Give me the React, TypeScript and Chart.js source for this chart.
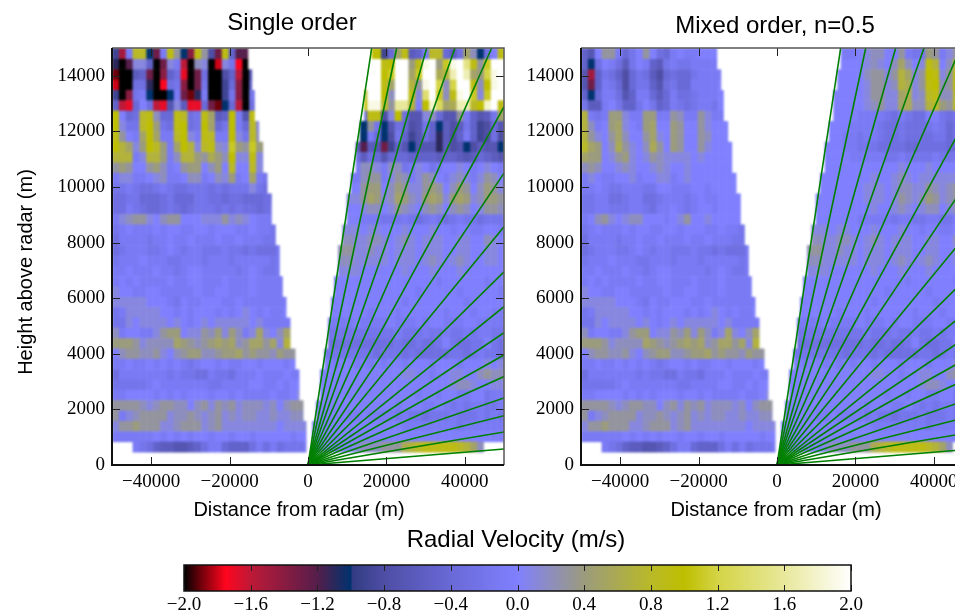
import React, { useEffect, useRef } from "react";
import { Chart, registerables } from "chart.js";

Chart.register(...registerables);

const xTickValues = [-40000, -20000, 0, 20000, 40000];
const yTickValues = [0, 2000, 4000, 6000, 8000, 10000, 12000, 14000];
const colorbarTicks = [-2, -1.6, -1.2, -0.8, -0.4, 0, 0.4, 0.8, 1.2, 1.6, 2];

const cmapValues = [-2, -1.9, -1.75, -1.6, -1.2, -1.0, -0.99, -0.8, -0.4, 0, 0.4, 0.8, 1.0, 1.2, 1.6, 2];
const cmapColors = [
  [0, 0, 0], [110, 0, 10], [255, 5, 30], [190, 25, 55], [85, 30, 75], [0, 50, 110], [50, 60, 130], [78, 78, 165],
  [105, 105, 215], [128, 128, 255], [155, 155, 125], [185, 185, 40], [190, 190, 0], [212, 212, 70], [232, 232, 155], [255, 255, 255],
];

// end of each ray at the edge of the plot
const rayEndX = [16250, 22630, 30280, 37500, 46860, 50000, 50000, 50000, 50000, 50000, 50000, 50000, 50000, 50000, 50000, 50000, 50000];
const rayEndY = [15000, 15000, 15000, 15000, 15000, 12890, 10500, 8570, 6950, 5695, 4760, 3957, 3180, 2410, 1773, 1187, 575];

// rows, top to bottom: inner limit of the data on each side of the radar
const leftRowEnd = [-15380, -15380, -14360, -14360, -13700, -13700, -13700, -12580, -12580, -11560, -11560, -11560, -10460, -10460, -9360, -9360, -9360, -8340, -8340, -7320, -7320, -7320, -6560, -6560, -5610, -5610, -4590, -4590, -4590, -3320, -3320, -2300, -2300, -2300, -1280, -1280, -510, -510, -510];
const rightRowStart = [16250, 16250, 15380, 15380, 14360, 14360, 14360, 13270, 13270, 12170, 12170, 12170, 10970, 10970, 9870, 9870, 9870, 8750, 8750, 7650, 7650, 7650, 6630, 6630, 5870, 5870, 5100, 5100, 5100, 4160, 4160, 3060, 3060, 3060, 2040, 2040, 1020, 1020, 1020];

const rowBase = 468;
const rowStep = 372;
const colStep = 1750;

// cells run from x=-50000 towards the radar
const singleLeftUpper = [
  [-.9,-1.5,-.1,.8,.8,-1,-1.3,-.1,.9,.3,-1,-1.4,.9,.3,-.8,-1.3,.9,-.5,-1.2,-1.2],
  [-1.1,-2,-1.2,.1,.1,-.5,-2,-1.3,.1,-.1,-1.6,-2,.2,.1,-2,-1.8,.1,-.2,-1.75,-2],
  [-1.9,-2,-2,-.6,-.5,-1.3,-2,-1.4,-.5,-.3,-1.7,-2,-1.3,-.3,-2,-2,-.8,-.5,-1.6,-2,-.7],
  [-1.8,-2,-2,-.3,-.3,-1.1,-2,-1.75,-.3,-.2,-1.4,-2,-1.3,-.2,-2,-2,-.9,-.4,-1.4,-2,-.5],
  [-.9,-2,-1.4,-.2,-.1,-1,-2,-2,-1,-.1,-1.3,-1.9,-1.1,-.1,-2,-2,-.9,-.2,-1.4,-2,-.2,-.1],
  [-.5,-1.6,-1.7,-.4,0,-.3,-1.6,-1.7,-.7,.1,-.6,-1.7,-1.7,-.4,-1.3,-1.9,-1,-.4,-1.6,-2,-.3,0],
  [1,0,-.4,-.3,.8,.9,.2,-.4,-.4,.9,.8,-.3,-.2,.9,.5,-.6,-.5,1,-.1,-.7,.9],
  [1,.1,-.2,-.2,.8,1,.4,-.2,-.3,.9,1,-.3,-.2,1,.5,-.4,-.2,1,-.1,-.4,.8,.1],
  [.9,.3,0,-.1,.5,1,.5,-.1,-.1,.8,1,.1,-.1,.9,.8,-.1,-.1,1,.1,-.2,.8,.2],
  [1,.7,.5,.1,.4,1,.8,.4,-.1,.5,1,.7,.1,.8,.9,.2,.1,1.1,.4,.3,1.1,.4],
  [.7,.7,.7,-.1,.1,.7,.7,.4,-.1,.2,.7,.7,.4,.3,.6,.4,.2,1,.1,.1,.9,.1],
  [.3,.4,.3,0,0,.3,.4,.2,-.1,0,.3,.4,.4,0,.2,.4,0,.8,0,0,.8,.1],
  [-.1,.1,.1,-.1,-.1,0,.1,.2,-.1,-.1,0,.2,.2,-.1,0,.2,.1,.4,-.1,0,.5,-.1,-.2],
  [-.2,-.2,-.1,-.2,-.3,-.3,-.2,-.1,-.2,-.3,-.3,-.2,-.2,-.2,-.3,-.2,-.3,-.2,-.2,-.2,.1,-.2,-.3],
  [-.3,-.3,-.2,-.2,-.4,-.4,-.4,-.3,-.2,-.4,-.4,-.4,-.2,-.2,-.3,-.3,-.4,-.3,-.3,-.4,-.4,-.4,-.3,-.3],
  [-.3,-.3,-.1,-.2,-.3,-.4,-.4,-.3,-.2,-.3,-.4,-.3,-.2,-.2,-.2,-.3,-.2,-.3,-.2,-.3,-.3,-.4,-.3,-.2],
  [-.1,.1,.2,.3,.3,.1,0,.2,.3,.3,0,0,0,.1,.1,.1,.3,.1,.2,.1,0,-.1,-.1,-.1],
];

const mixedLeftUpper = [
  [-.5,-.7,0,.3,.3,-.1,-.4,-.2,0,.3,0,-.3,-.4,-.1,0,-.1,-.1,0,0,0],
  [-.5,-1,-.3,0,-.1,-.3,-.6,-.2,0,-.1,-.5,-.6,-.2,-.1,-.2,-.2,-.1,-.1,-.1,-.1],
  [-.7,-1.5,-.5,-.2,-.3,-.5,-.8,-.4,-.2,-.3,-.6,-.8,-.4,-.3,-.4,-.4,-.2,-.1,-.1,-.1,-.1],
  [-.7,-1.3,-.5,-.1,-.2,-.4,-.8,-.4,-.2,-.2,-.5,-.7,-.3,-.2,-.4,-.4,-.1,-.1,-.1,-.1,0],
  [-.5,-1,-.4,-.1,-.1,-.3,-.7,-.5,-.1,-.1,-.4,-.6,-.4,-.1,-.3,-.3,-.2,-.1,-.1,-.1,0,0],
  [-.2,-.6,-.6,-.1,0,-.2,-.5,-.5,-.2,0,-.2,-.5,-.4,-.1,-.2,-.3,-.2,-.1,-.1,-.2,0,0],
  [.7,-.1,-.2,-.1,.4,.4,.1,-.1,-.1,.4,.4,-.1,-.1,.3,.2,-.1,-.1,.3,.1,-.1,-.1,.1],
  [.7,.2,-.1,0,.4,.5,.1,0,-.1,.4,.5,0,0,.4,.3,0,0,.3,.1,0,0,0],
  [.7,.3,.1,0,.3,.5,.2,0,0,.3,.5,.1,0,.4,.3,0,0,.3,.2,0,0,0],
  [.8,.5,.4,0,.2,.6,.3,.1,0,.2,.6,.3,0,.4,.3,0,0,.3,.1,0,0,0],
  [.5,.4,.4,0,.1,.3,.4,.1,0,.1,.3,.2,.1,.1,.1,.1,0,.1,0,0,0,0],
  [.2,.3,.2,0,0,.1,.2,.1,0,0,.1,.2,.1,0,0,.1,0,0,0,0,0,0],
  [-.1,.1,0,-.1,-.1,0,0,.1,-.1,0,0,.1,.1,-.1,0,.1,0,0,0,0,0,0,0],
  [-.1,-.1,0,-.1,-.2,-.2,-.1,-.1,-.1,-.2,-.2,0,0,-.1,-.1,-.1,0,0,-.1,0,0,0,0],
  [-.2,-.2,-.1,-.1,-.3,-.3,-.2,-.1,-.1,-.3,-.3,-.2,-.1,-.1,-.1,-.2,-.1,0,-.1,-.1,0,0,0,0],
  [-.2,-.2,-.1,-.1,-.2,-.2,-.2,-.1,-.1,-.2,-.3,-.1,-.1,0,-.1,-.2,-.1,0,0,-.1,0,0,0,0],
  [-.1,0,.2,.3,.1,0,.1,.2,.2,0,0,0,-.1,0,.1,.3,0,0,.1,0,0,0,0,0],
];

const lowerLeft = [
  [-.2,-.1,0,-.1,-.1,-.1,0,-.1,0,0,-.1,-.1,0,0,-.1,0,0,0,-.1,-.1,0,-.1,-.1,-.2],
  [-.3,-.1,-.1,-.1,-.1,-.2,-.1,-.1,0,-.1,-.1,0,-.1,-.1,-.1,0,-.1,-.1,0,-.1,-.1,-.1,-.2,-.2],
  [-.3,-.2,-.1,-.1,-.1,-.2,-.2,-.1,0,-.1,-.2,-.1,-.1,-.2,-.2,-.2,-.1,-.2,-.2,-.3,-.2,-.3,-.3,-.3,-.1],
  [-.2,-.1,-.1,-.1,0,-.1,-.1,-.1,-.2,-.2,-.1,-.1,-.1,-.2,-.1,-.1,-.1,-.2,-.1,-.1,-.1,-.1,-.1,-.2,-.1],
  [-.1,-.1,0,-.1,-.1,-.1,0,-.1,-.1,-.2,-.1,0,0,-.1,-.1,-.1,-.1,-.1,-.2,-.1,0,-.1,-.2,-.2,-.1],
  [-.1,0,-.1,0,-.1,-.1,-.1,-.1,0,-.1,-.1,0,0,-.1,-.1,-.1,0,-.1,-.1,-.1,0,-.1,-.1,-.1,-.1],
  [.1,0,0,-.1,-.1,0,0,-.1,-.1,-.1,-.1,-.1,0,-.1,-.1,0,0,-.1,-.1,-.1,0,-.1,-.1,-.1,-.1],
  [.1,.1,.1,.1,.1,0,0,0,-.1,-.2,0,-.1,-.1,0,0,0,-.1,-.1,0,-.1,-.1,-.1,-.1,-.1,-.1],
  [-.2,-.1,.1,.1,.1,.1,.1,0,0,-.1,0,-.1,0,0,0,-.1,0,-.1,0,.1,0,-.1,0,-.1,-.1,0],
  [-.2,-.2,.1,0,.1,.1,.1,.1,0,.1,0,-.1,0,.1,0,.1,.1,.1,.1,.1,0,.1,-.1,-.1,-.1,-.1],
  [.2,-.1,0,0,-.1,-.1,.1,.3,.4,.4,0,.1,.1,.3,.2,.4,.1,.4,.2,-.1,.1,.5,.1,0,.2,.5],
  [.4,.4,.4,.3,.1,.2,.2,.2,.2,.5,.4,.3,.2,.3,.4,.5,.4,.5,.2,.3,.5,.5,.3,.5,.1,.7],
  [0,.2,.3,.3,.2,.2,.3,.1,0,.2,.3,.4,.4,.2,.2,.3,.4,.4,.5,.3,.4,.3,.3,.2,.4,.3],
  [-.1,-.1,0,-.1,-.1,0,-.1,0,-.1,0,-.1,-.2,-.1,0,0,-.1,0,-.1,-.1,0,0,-.1,0,0,0,-.1,0],
  [-.3,-.1,-.1,-.1,-.1,-.1,-.1,-.1,-.2,-.1,-.2,-.2,-.3,-.3,-.1,-.2,-.2,-.3,-.1,-.1,-.1,0,-.1,-.1,-.1,0,-.1],
  [-.2,-.2,-.2,-.2,-.2,-.1,0,-.1,-.1,-.1,-.1,-.1,-.1,-.1,-.2,-.2,-.1,-.1,-.1,-.1,0,0,-.1,-.1,0,-.1,0,0],
  [-.1,-.1,0,0,0,0,-.1,0,-.1,0,-.1,0,0,0,-.1,0,0,-.1,0,-.1,-.1,-.1,-.1,0,-.1,-.1,0,.1],
  [.3,.3,.3,.3,.2,.1,.2,.3,.3,.2,.2,0,.2,.3,.1,.3,.2,.3,.1,.2,.2,.2,.1,.2,0,.2,.3,.3],
  [.3,-.1,.1,.2,.3,.3,.3,.3,.1,.2,.2,.3,.2,.1,.2,.3,.1,.2,.1,.2,.2,.1,.1,.2,.1,.1,.2,.2],
  [.1,.3,.3,.4,.3,.3,.3,.1,.1,.2,.3,.3,.3,.1,.2,.3,.1,.1,.1,.1,.1,.1,.1,.1,0,.1,.1,.1],
  [-.1,-.1,-.1,-.1,-.1,-.1,0,-.1,0,-.1,0,-.1,0,0,-.1,0,0,-.1,0,0,-.1,0,0,0,0,0,-.1,0,0],
  [null,null,null,-.1,-.2,-.3,-.5,-.6,-.6,-.7,-.7,-.6,-.5,-.3,-.1,-.1,-.4,-.5,-.5,-.5,-.3,-.1,-.3,-.1,-.3,-.2,-.2,-.2,-.1],
];

// cells run from x=+50000 towards the radar
const singleRightUpper = [
  [.9,0,-.3,-1,.2,.5,-.3,-.6,-.4,.8,.8,-.1,-.5,-.6,.9,.5,-.4,-.9,1,1],
  [2,2,1.1,.3,.9,1.5,2,1.9,1.1,.4,2,1.9,.9,.4,2,2,1,.9,2,2],
  [2,1.9,1.2,.4,.5,1.7,2,1.7,.7,.6,2,2,1.1,.5,2,2,1.1,1,2,2,2],
  [2,1.9,1,.2,.9,2,2,1.2,.2,1.2,2,1.9,.3,.7,2,2,.5,.9,2,2,1.9],
  [2,2,1.1,.1,1.1,2,1.9,.9,.2,1.1,2,1.4,.1,.9,2,2,.2,1,2,2,.8,.2],
  [.9,2,1.8,1,.8,1.7,1.7,.6,.5,1.3,1.8,1,0,.7,1.6,1.6,.3,.8,1.9,1.9,1,.2],
  [.5,-.2,-.6,-.7,-.5,-.1,.3,-.7,-.7,-.4,.2,.1,-.7,-.7,-.3,1,.1,-.8,.9,.9,-.4,-.3],
  [-.7,-.4,-.8,-.9,-.5,-.2,-.6,-.8,-.6,-1,-.5,-.2,-.7,-.8,-.4,-.3,-.7,-1,-.2,.3,-1,-.7],
  [-.8,-.3,-.8,-.9,-.5,-.1,-.5,-.8,-.6,-1.1,-.5,-.3,-.7,-.9,-.5,-.2,-.8,-1,-.4,-.1,-1,-.8,-.5],
  [-1,-.7,-.7,-.6,-.8,-1,-.7,-.8,-.6,-1.1,-.7,-.7,-.7,-1,-.7,-.5,-.9,-1.3,-.7,-.6,-1.2,-.6],
  [-.7,-.6,-.5,-.4,-.6,-.7,-.6,-.5,-.5,-.6,-.5,-.5,-.5,-.5,-.4,-.4,-.4,-.7,-.4,-.3,-.6,-.3,0],
  [-.1,0,.1,0,-.1,0,.1,0,0,-.1,-.2,0,.1,-.1,-.2,.2,.2,-.1,.1,.2,.2,-.1],
  [0,.2,.3,.1,-.1,.1,.2,.1,-.1,0,.2,.3,.1,-.1,.2,.3,.1,-.1,.3,.3,.2,-.1,-.2],
  [.1,.3,.4,.2,0,.3,.4,.2,0,.3,.4,.3,.1,.1,.3,.4,.2,0,.4,.4,.3,0,-.1],
  [.3,.4,.4,.2,.1,.4,.5,.4,.1,.4,.5,.4,.1,.2,.4,.5,.2,.1,.4,.5,.3,.1,.1,0],
  [.2,.3,.3,.1,0,.2,.3,.2,0,.2,.3,.2,0,.1,.2,.3,.1,0,.2,.2,.1,0,0,0],
  [-.2,-.2,-.2,-.3,-.2,-.2,-.1,-.2,-.3,-.2,-.1,-.2,-.3,-.2,-.1,-.2,-.2,-.2,-.1,-.1,-.1,0,0,0],
];

const mixedRightUpper = [
  [.1,0,.3,.1,-.1,.3,.4,-.2,-.2,-.1,.3,0,0,.2,.2,.1,0,-.1,-.1,0],
  [.4,.3,.7,.2,0,.7,.9,.1,0,.2,.5,.2,0,.1,.2,.1,0,0,0,0],
  [.7,.3,.9,.3,.1,.9,1,.3,.1,.5,.7,.3,.1,.3,.3,.2,0,0,0,0,0],
  [.7,.3,.9,.3,.2,1,.9,.3,.1,.6,.7,.2,.1,.3,.3,.1,0,0,0,0,0],
  [.7,.3,.8,.2,.2,.9,.8,.2,.1,.6,.5,.1,.1,.3,.3,.1,0,0,0,0,0,0],
  [.8,.3,.8,.3,.4,.8,.7,.2,.2,.6,.5,.1,.1,.3,.2,.1,0,0,0,0,0,0],
  [-.1,-.2,-.2,-.3,-.2,0,0,-.3,-.3,-.2,-.1,-.3,-.2,-.1,-.1,-.1,-.1,0,0,0,0,0],
  [-.3,-.3,-.3,-.4,-.2,-.1,-.2,-.3,-.3,-.3,-.2,-.3,-.3,-.2,-.1,-.1,-.1,-.1,0,0,0,0],
  [-.3,-.3,-.3,-.4,-.2,-.2,-.3,-.3,-.3,-.3,-.2,-.3,-.3,-.2,-.1,-.1,-.2,-.1,-.1,0,0,0],
  [-.4,-.4,-.4,-.4,-.3,-.3,-.3,-.3,-.4,-.4,-.3,-.3,-.3,-.3,-.2,-.2,-.2,-.1,-.1,0,0,0],
  [-.2,-.2,-.2,-.2,-.2,-.1,-.2,-.2,-.2,-.2,-.1,-.2,-.2,-.1,-.1,-.1,-.1,-.1,0,0,0,0,0],
  [0,0,0,0,0,0,.1,0,0,0,.1,0,0,0,0,0,0,0,0,0,0,0],
  [.1,.1,.1,.1,.1,.1,.1,.1,0,.1,.2,.1,0,0,.1,0,0,0,0,0,0,0,0],
  [.1,.2,.3,.2,.1,.2,.3,.1,.1,.2,.2,.1,0,.1,.1,.1,0,0,0,0,0,0,0],
  [.2,.2,.3,.2,.1,.3,.4,.2,.1,.2,.3,.1,0,.1,.1,.1,0,0,0,0,0,0,0,0],
  [.1,.1,.2,.1,0,.2,.2,.1,0,.1,.2,.1,0,0,.1,0,0,0,0,0,0,0,0,0],
  [-.1,-.1,-.1,-.2,-.2,-.1,-.1,-.2,-.2,-.1,-.1,-.2,-.1,-.1,-.1,-.1,-.1,0,0,0,0,0,0,0],
];

const lowerRight = [
  [-.1,0,0,-.1,-.1,0,0,-.1,0,0,.1,0,0,0,.1,0,0,0,.1,.1,0,.1,.1,.1],
  [0,.1,.2,0,0,.1,.1,0,0,.1,.1,.1,0,.1,.2,.1,0,.1,.2,.2,.1,.1,.2,.2,.1],
  [0,.1,.1,0,0,.1,.1,0,0,.1,.1,.1,0,.1,.1,.1,0,.1,.1,.2,.1,.1,.3,.3,.2],
  [0,.1,.1,0,0,.1,.2,.1,0,.1,.2,.1,0,.1,.1,.1,0,.1,.1,.1,.1,.1,.2,.2,.1],
  [0,0,0,0,0,0,.1,0,0,0,.1,0,0,0,.1,0,0,0,0,0,0,.1,.1,.1,0],
  [0,0,-.1,0,0,0,0,0,0,-.1,0,0,0,0,0,0,0,0,0,0,0,0,0,0,0],
  [-.1,0,0,0,0,0,-.1,0,0,0,0,0,-.1,0,0,0,0,0,0,0,0,0,0,0,0,0],
  [0,0,0,0,0,-.1,0,0,0,0,0,0,0,0,-.1,0,0,0,0,0,0,0,0,0,0,0],
  [-.1,-.1,0,0,-.1,0,0,0,-.1,0,0,0,0,0,0,-.1,0,0,0,-.1,0,0,0,0,0,-.1],
  [-.1,-.1,-.1,-.1,0,0,-.1,-.1,-.1,0,0,-.1,0,-.1,-.1,-.1,0,-.1,-.1,-.1,-.1,0,-.1,-.1,-.1,-.1],
  [-.2,-.2,-.1,-.1,-.2,-.1,-.2,-.2,-.1,-.2,-.2,-.1,-.2,-.2,-.2,-.1,-.2,-.2,-.2,-.2,-.2,-.2,-.2,-.2,-.2,-.2,-.2],
  [-.3,-.2,0,-.2,-.2,-.3,-.3,-.2,0,-.2,-.3,-.3,-.2,-.3,-.3,-.2,-.3,-.3,-.3,-.3,-.3,-.3,-.3,-.3,-.3,-.3],
  [-.3,-.2,-.2,-.1,-.2,-.3,-.2,-.2,-.3,-.3,-.3,-.3,-.3,-.2,-.3,-.2,-.2,-.2,-.3,-.2,-.2,-.2,-.2,-.2,-.2,-.2,-.2],
  [.1,0,.1,0,0,0,-.1,0,0,0,-.1,0,0,0,-.1,0,0,-.1,0,-.1,0,-.1,0,0,-.1,0,0],
  [.2,.2,.3,.2,0,0,.1,.1,0,0,-.1,0,0,.1,.1,0,0,0,0,0,0,0,0,0,0,0,0,0],
  [.1,.1,0,0,.1,.2,.2,.1,0,0,0,0,0,0,0,0,0,0,0,0,0,0,0,0,0,0,0,0],
  [-.1,-.1,-.2,0,0,-.1,-.1,0,0,-.1,0,0,-.1,0,0,0,0,0,0,0,0,0,0,0,0,0,0,0],
  [-.1,-.2,-.2,-.1,-.1,-.2,-.1,-.2,-.1,0,-.1,-.1,0,0,0,-.1,0,0,0,0,0,0,0,0,0,0,0,0],
  [-.2,-.1,-.2,-.1,-.2,-.2,-.2,-.1,-.2,-.2,-.2,-.3,-.2,-.2,-.1,-.2,-.1,-.1,-.1,-.1,0,-.1,-.1,0,0,0,0,0],
  [-.1,-.1,-.1,-.1,-.1,-.1,-.2,-.1,-.1,-.1,-.1,-.1,-.1,-.1,-.1,0,0,0,0,0,0,0,0,0,0,0,0,0,0],
  [0,0,0,0,0,0,0,0,0,0,0,0,0,0,0,0,0,0,0,0,0,0,0,0,0,0,0,0,0],
  [null,null,null,.2,.5,.7,.8,.9,.9,.9,.9,.9,.8,.7,.6,.3,.3,.3,.2,.2,.2,.1,0,0,0,0,0,0,0],
];

const SERIF = "'Liberation Serif', serif";
const SANS = "'Liberation Sans', sans-serif";

function colorFor(v: number) {
  let i = 0;
  while (i < cmapValues.length - 2 && v > cmapValues[i + 1]) i++;
  const t = Math.max(0, Math.min(1, (v - cmapValues[i]) / (cmapValues[i + 1] - cmapValues[i])));
  const a = cmapColors[i];
  const b = cmapColors[i + 1];
  return `rgb(${a[0] + (b[0] - a[0]) * t},${a[1] + (b[1] - a[1]) * t},${a[2] + (b[2] - a[2]) * t})`;
}

const minusLabel = (v: number | string) => {
  const n = Number(v);
  return n < 0 ? "\u2212" + Math.abs(n) : String(n);
};

type Text = { text: string; x: number; y: number; size: number; rotate?: boolean };

function panelPlugin(left: (number | null)[][], right: (number | null)[][], texts: Text[]) {
  return {
    id: "panel",
    beforeDatasetsDraw(chart: any) {
      const { ctx, chartArea: a, scales } = chart;
      const { x, y } = scales;
      const off = document.createElement("canvas");
      off.width = chart.width;
      off.height = chart.height;
      const o = off.getContext("2d")!;
      const cell = (x1: number, x2: number, r: number, v: number) => {
        const k = 38 - r;
        const y1 = rowBase + rowStep * k;
        const y2 = k === 38 ? 15000 : y1 + rowStep;
        const pa = x.getPixelForValue(x1);
        const pb = x.getPixelForValue(x2);
        const pt = y.getPixelForValue(y2);
        const pu = y.getPixelForValue(y1);
        o.fillStyle = colorFor(v);
        o.fillRect(pa, pt, pb - pa + 0.5, pu - pt + 0.5);
      };
      left.forEach((row, r) => {
        const end = leftRowEnd[r];
        row.forEach((v, i) => {
          const x1 = -50000 + colStep * i;
          if (v === null || x1 >= end) return;
          const x2 = i === row.length - 1 ? end : Math.min(x1 + colStep, end);
          cell(x1, x2, r, v);
        });
      });
      right.forEach((row, r) => {
        const start = rightRowStart[r];
        row.forEach((v, j) => {
          const x2 = 50000 - colStep * j;
          if (v === null || x2 <= start) return;
          const x1 = j === row.length - 1 ? start : Math.max(x2 - colStep, start);
          cell(x1, x2, r, v);
        });
      });
      ctx.save();
      ctx.beginPath();
      ctx.rect(a.left, a.top, a.right - a.left, a.bottom - a.top);
      ctx.clip();
      ctx.filter = "blur(0.8px)";
      ctx.drawImage(off, 0, 0);
      ctx.restore();
    },
    afterDraw(chart: any) {
      const { ctx, chartArea: a, scales } = chart;
      ctx.save();
      ctx.lineWidth = 1;
      ctx.strokeStyle = "#222";
      xTickValues.forEach((v) => {
        const p = Math.round(scales.x.getPixelForValue(v)) + 0.5;
        ctx.beginPath();
        ctx.moveTo(p, a.bottom);
        ctx.lineTo(p, a.bottom - 8);
        ctx.moveTo(p, a.top);
        ctx.lineTo(p, a.top + 8);
        ctx.stroke();
      });
      yTickValues.forEach((v) => {
        const p = Math.round(scales.y.getPixelForValue(v)) + 0.5;
        ctx.beginPath();
        ctx.moveTo(a.left, p);
        ctx.lineTo(a.left + 8, p);
        ctx.moveTo(a.right, p);
        ctx.lineTo(a.right - 8, p);
        ctx.stroke();
      });
      ctx.lineWidth = 1.5;
      ctx.strokeStyle = "#555";
      ctx.beginPath();
      ctx.moveTo(a.left, a.top);
      ctx.lineTo(a.right, a.top);
      ctx.lineTo(a.right, a.bottom);
      ctx.stroke();
      ctx.lineWidth = 2;
      ctx.strokeStyle = "#111";
      ctx.beginPath();
      ctx.moveTo(a.left, a.top);
      ctx.lineTo(a.left, a.bottom);
      ctx.lineTo(a.right, a.bottom);
      ctx.stroke();
      ctx.fillStyle = "#000";
      ctx.textAlign = "center";
      ctx.textBaseline = "middle";
      texts.forEach((t) => {
        ctx.save();
        ctx.font = `${t.size}px ${SANS}`;
        ctx.translate(t.x, t.y);
        if (t.rotate) ctx.rotate(-Math.PI / 2);
        ctx.fillText(t.text, 0, 0);
        ctx.restore();
      });
      ctx.restore();
    },
  };
}

function makePanel(
  canvas: HTMLCanvasElement,
  yAxisWidth: number,
  rightPad: number,
  left: (number | null)[][],
  right: (number | null)[][],
  texts: Text[],
) {
  const datasets = rayEndX.map((ex, i) => ({
    data: [{ x: 0, y: 0 }, { x: ex, y: rayEndY[i] }],
    showLine: true,
    pointRadius: 0,
    borderColor: "rgb(0,128,0)",
    borderWidth: 1.6,
  }));
  return new Chart(canvas, {
    type: "scatter",
    data: { datasets },
    options: {
      animation: false,
      responsive: false,
      layout: { padding: { top: 48, right: rightPad, left: 0, bottom: 0 } },
      plugins: { legend: { display: false }, tooltip: { enabled: false } },
      scales: {
        x: {
          type: "linear",
          min: -50000,
          max: 50000,
          afterBuildTicks: (s: any) => { s.ticks = xTickValues.map((value) => ({ value })); },
          afterFit: (s: any) => { s.height = 65; },
          grid: { display: false, drawTicks: false },
          border: { display: false },
          ticks: { font: { family: SERIF, size: 19 }, color: "#000", padding: 6, maxRotation: 0, autoSkip: false, callback: minusLabel },
        },
        y: {
          type: "linear",
          min: 0,
          max: 15000,
          afterBuildTicks: (s: any) => { s.ticks = yTickValues.map((value) => ({ value })); },
          afterFit: (s: any) => { s.width = yAxisWidth; },
          grid: { display: false, drawTicks: false },
          border: { display: false },
          ticks: { font: { family: SERIF, size: 19 }, color: "#000", padding: 7, autoSkip: false, callback: minusLabel },
        },
      },
    },
    plugins: [panelPlugin(left, right, texts)],
  } as any);
}

function makeColorbar(canvas: HTMLCanvasElement) {
  return new Chart(canvas, {
    type: "scatter",
    data: { datasets: [{ data: [] }] },
    options: {
      animation: false,
      responsive: false,
      layout: { padding: { top: 40, right: 104, left: 184, bottom: 0 } },
      plugins: { legend: { display: false }, tooltip: { enabled: false } },
      scales: {
        x: {
          type: "linear",
          min: -2,
          max: 2,
          afterBuildTicks: (s: any) => { s.ticks = colorbarTicks.map((value) => ({ value })); },
          afterFit: (s: any) => { s.height = 23; },
          grid: { display: false, drawTicks: false },
          border: { display: false },
          ticks: {
            font: { family: SERIF, size: 19 },
            color: "#000",
            padding: 3,
            maxRotation: 0,
            autoSkip: false,
            callback: (v: any) => {
              const n = Number(v);
              return (n < 0 ? "\u2212" : "") + Math.abs(n).toFixed(1);
            },
          },
        },
        y: { type: "linear", min: 0, max: 1, display: false },
      },
    },
    plugins: [
      {
        id: "colorbar",
        beforeDatasetsDraw(chart: any) {
          const { ctx, chartArea: a, scales } = chart;
          const x0 = scales.x.getPixelForValue(-2);
          const x1 = scales.x.getPixelForValue(2);
          const g = ctx.createLinearGradient(x0, 0, x1, 0);
          cmapValues.forEach((v) => g.addColorStop((v + 2) / 4, colorFor(v === 2 ? 1.9999 : v)));
          ctx.fillStyle = g;
          ctx.fillRect(a.left, a.top, a.right - a.left, a.bottom - a.top);
        },
        afterDraw(chart: any) {
          const { ctx, chartArea: a, scales } = chart;
          ctx.save();
          ctx.strokeStyle = "#222";
          ctx.lineWidth = 1;
          colorbarTicks.forEach((v) => {
            const p = Math.round(scales.x.getPixelForValue(v)) + 0.5;
            ctx.beginPath();
            ctx.moveTo(p, a.top);
            ctx.lineTo(p, a.top + 6);
            ctx.moveTo(p, a.bottom);
            ctx.lineTo(p, a.bottom - 6);
            ctx.stroke();
          });
          ctx.lineWidth = 1.5;
          ctx.strokeStyle = "#111";
          ctx.strokeRect(a.left, a.top, a.right - a.left, a.bottom - a.top);
          ctx.fillStyle = "#000";
          ctx.font = `24px ${SANS}`;
          ctx.textAlign = "center";
          ctx.textBaseline = "middle";
          ctx.fillText("Radial Velocity (m/s)", 516, 15);
          ctx.restore();
        },
      },
    ],
  } as any);
}

const canvasStyle = (left: number, top: number): React.CSSProperties => ({ position: "absolute", left, top, display: "block" });

export default function App() {
  const a = useRef<HTMLCanvasElement>(null);
  const b = useRef<HTMLCanvasElement>(null);
  const c = useRef<HTMLCanvasElement>(null);
  useEffect(() => {
    const charts = [
      makePanel(a.current!, 112, 6, [...singleLeftUpper, ...lowerLeft], [...singleRightUpper, ...lowerRight], [
        { text: "Single order", x: 292, y: 23, size: 24 },
        { text: "Distance from radar (m)", x: 299, y: 510, size: 20 },
        { text: "Height above radar (m)", x: 26, y: 272, size: 20, rotate: true },
      ]),
      makePanel(b.current!, 71, 17, [...mixedLeftUpper, ...lowerLeft], [...mixedRightUpper, ...lowerRight], [
        { text: "Mixed order, n=0.5", x: 265, y: 26, size: 24 },
        { text: "Distance from radar (m)", x: 266, y: 510, size: 20 },
      ]),
      makeColorbar(c.current!),
    ];
    return () => charts.forEach((ch) => ch.destroy());
  }, []);
  return (
    <div style={{ position: "fixed", left: 0, top: 0, width: 955, height: 614, overflow: "hidden", background: "#fff" }}>
      <canvas ref={a} width={510} height={530} style={canvasStyle(0, 0)} />
      <canvas ref={b} width={480} height={530} style={canvasStyle(510, 0)} />
      <canvas ref={c} width={955} height={89} style={canvasStyle(0, 525)} />
    </div>
  );
}
